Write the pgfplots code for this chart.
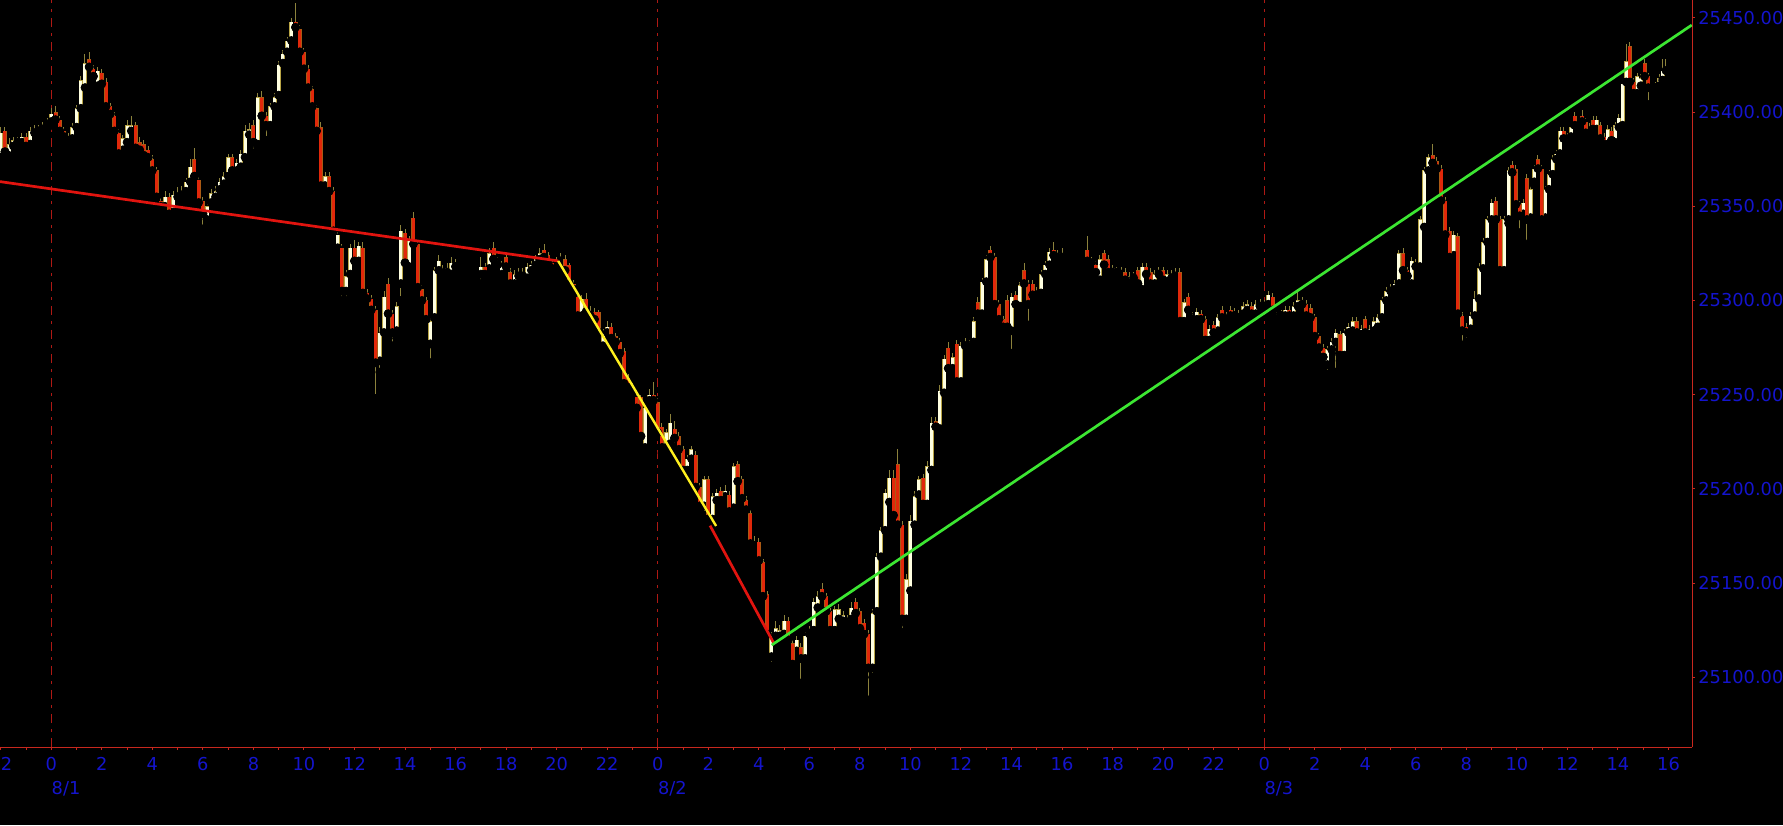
\documentclass[border=0pt]{standalone}
\usepackage{fontspec}
\setmainfont{DejaVu Sans}
\usepackage{pgfplots}
\usepackage{pgfplotstable}
\pgfplotsset{compat=1.18}

\definecolor{tblue}{RGB}{20,20,205}
\definecolor{axred}{RGB}{200,40,30}
\definecolor{dayred}{RGB}{175,25,20}
\definecolor{wickc}{RGB}{140,130,60}
\definecolor{upfill}{RGB}{255,255,225}
\definecolor{upline}{RGB}{185,165,70}
\definecolor{dnfill}{RGB}{225,40,10}
\definecolor{dnline}{RGB}{170,90,20}
\definecolor{trred}{RGB}{225,20,15}
\definecolor{tryel}{RGB}{255,240,30}
\definecolor{trgrn}{RGB}{60,230,50}
\pagecolor{black}

\newcommand\lbl{\fontsize{8.9}{10}\selectfont}

% 8/1 22:00 to 16:00, one row every 10 min
\pgfplotstableread{
o h l c
25376 25392 25372 25389
25390 25392 25377 25379
25377 25386 25375 25383
25382 25387 25380 25385
25385 25387 25382 25384
25384 25389 25382 25387
25387 25389 25380 25382
25383 25392 25381 25390
25389 25393 25387 25391
25390 25393 25388 25392
25391 25395 25389 25393
25393 25397 25391 25395
25395 25402 25393 25399
25400 25403 25394 25396
25396 25398 25388 25390
25390 25392 25384 25387
25387 25389 25382 25385
25386 25394 25384 25392
25392 25404 25390 25402
25402 25419 25398 25417
25413 25431 25410 25426
25428 25432 25421 25424
25423 25425 25416 25419
25414 25424 25411 25422
25421 25423 25413 25415
25416 25418 25401 25403
25403 25405 25397 25399
25398 25400 25388 25390
25389 25391 25376 25378
25380 25388 25376 25386
25384 25396 25382 25393
25390 25398 25388 25393
25393 25395 25379 25381
25384 25387 25378 25380
25383 25385 25374 25377
25380 25382 25374 25376
25375 25377 25367 25369
25369 25371 25352 25355
25353 25355 25347 25350
25350 25358 25348 25355
25355 25357 25343 25346
25347 25358 25345 25356
25355 25360 25353 25357
25356 25361 25354 25358
25358 25365 25356 25363
25363 25375 25361 25371
25375 25381 25364 25366
25364 25366 25350 25352
25353 25355 25338 25346
25343 25352 25340 25350
25352 25359 25350 25357
25355 25361 25353 25358
25359 25365 25357 25363
25362 25368 25360 25366
25366 25378 25364 25376
25376 25378 25367 25369
25369 25375 25367 25373
25371 25380 25369 25378
25376 25393 25374 25390
25388 25394 25386 25391
25393 25396 25378 25384
25383 25410 25381 25408
25408 25411 25396 25398
25398 25400 25385 25393
25393 25405 25391 25403
25403 25410 25401 25408
25409 25427 25406 25425
25426 25433 25424 25431
25432 25440 25430 25438
25438 25450 25436 25448
25448 25458 25443 25445
25444 25446 25430 25432
25432 25434 25421 25423
25423 25425 25411 25413
25412 25414 25401 25403
25402 25404 25388 25390
25392 25395 25358 25361
25361 25368 25358 25366
25366 25368 25356 25358
25358 25360 25335 25337
25328 25337 25326 25335
25328 25330 25300 25305
25305 25316 25300 25313
25314 25330 25311 25328
25328 25332 25318 25321
25321 25331 25318 25329
25328 25331 25302 25304
25304 25306 25298 25301
25301 25303 25292 25295
25295 25297 25248 25267
25268 25286 25262 25283
25283 25305 25280 25302
25309 25312 25290 25293
25293 25295 25276 25283
25284 25299 25280 25297
25309 25340 25300 25337
25336 25338 25318 25320
25318 25334 25315 25332
25344 25347 25328 25330
25330 25332 25305 25307
25306 25308 25298 25300
25300 25302 25288 25290
25277 25291 25267 25289
25291 25318 25288 25316
25316 25324 25314 25321
25314 25319 25312 25316
25315 25320 25313 25317
25314 25323 25312 25320
25320 25322 25316 25318
}\sA

% 8/1 17:00 to 8/2 16:00
\pgfplotstableread{
o h l c
25314 25323 25309 25318
25318 25320 25311 25314
25317 25328 25315 25325
25328 25331 25320 25322
25321 25323 25316 25319
25314 25321 25311 25319
25323 25325 25316 25318
25315 25317 25306 25309
25309 25316 25307 25314
25315 25317 25310 25313
25313 25317 25311 25315
25312 25320 25309 25318
25316 25321 25314 25319
25319 25324 25317 25322
25322 25328 25320 25325
25327 25330 25321 25323
25324 25326 25318 25320
25320 25322 25315 25317
25319 25323 25317 25321
25321 25325 25319 25323
25322 25324 25314 25316
25319 25320 25307 25309
25309 25311 25303 25306
25302 25304 25289 25292
25292 25303 25287 25301
25301 25304 25292 25294
25294 25297 25290 25292
25294 25296 25287 25290
25294 25295 25280 25283
25276 25285 25273 25283
25283 25289 25281 25286
25286 25288 25278 25280
25281 25283 25275 25278
25278 25280 25270 25272
25273 25275 25253 25256
25259 25261 25251 25254
25254 25256 25249 25252
25249 25251 25240 25243
25249 25250 25225 25228
25222 25245 25218 25243
25247 25253 25245 25250
25250 25257 25244 25247
25246 25248 25228 25230
25233 25235 25219 25222
25222 25232 25220 25230
25224 25240 25222 25235
25232 25236 25222 25227
25228 25230 25218 25221
25221 25223 25207 25210
25210 25218 25208 25216
25216 25223 25214 25221
25218 25220 25199 25201
25201 25203 25188 25191
25191 25207 25186 25205
25205 25207 25180 25184
25184 25198 25182 25196
25194 25200 25190 25198
25199 25201 25191 25194
25196 25202 25193 25199
25197 25199 25184 25188
25190 25214 25188 25212
25213 25215 25202 25204
25205 25207 25193 25195
25194 25196 25186 25189
25187 25189 25168 25171
25170 25175 25167 25172
25172 25174 25160 25162
25161 25163 25140 25143
25144 25146 25120 25123
25111 25124 25106 25122
25122 25130 25120 25126
25122 25128 25118 25125
25123 25133 25120 25130
25130 25132 25117 25120
25118 25120 25103 25107
25114 25122 25110 25120
25116 25118 25097 25110
25110 25124 25108 25122
25123 25127 25120 25125
25125 25142 25123 25140
25137 25146 25135 25143
25147 25150 25141 25143
25143 25145 25132 25135
25135 25137 25122 25125
25125 25138 25123 25136
25131 25139 25129 25136
25130 25135 25128 25133
25131 25133 25127 25129
25131 25140 25129 25137
25140 25142 25132 25134
25135 25137 25124 25126
25129 25131 25120 25123
25123 25125 25088 25105
25105 25136 25100 25134
25135 25166 25133 25164
25164 25180 25162 25178
25178 25200 25176 25198
25193 25210 25190 25206
25206 25210 25183 25186
25213 25221 25178 25181
25181 25183 25124 25131
25131 25155 25128 25152
25146 25186 25144 25183
25181 25199 25178 25196
25197 25207 25195 25205
25206 25208 25190 25192
25192 25215 25190 25212
25210 25238 25208 25235
25236 25238 25231 25233
25232 25255 25230 25252
25251 25271 25249 25269
25275 25278 25262 25264
25264 25272 25262 25270
25277 25279 25254 25257
25257 25278 25255 25276
25278 25280 25274 25276
25277 25279 25272 25275
25278 25291 25276 25289
25299 25302 25290 25293
25293 25312 25291 25310
25310 25324 25308 25322
25327 25329 25321 25323
25323 25325 25295 25298
25298 25300 25287 25290
25290 25292 25283 25286
25300 25303 25283 25286
25284 25304 25272 25302
25303 25305 25295 25298
25297 25310 25295 25308
25316 25320 25307 25309
25309 25311 25287 25298
25309 25311 25300 25303
25303 25307 25301 25305
25304 25316 25302 25314
25314 25321 25312 25319
25319 25328 25317 25326
25327 25331 25322 25324
25325 25327 25321 25323
25323 25328 25321 25325
}\sB

% 8/2 17:00 to 8/3 09:30
\pgfplotstableread{
o h l c
25327 25334 25318 25321
25320 25323 25318 25321
25319 25321 25313 25315
25311 25324 25309 25322
25325 25327 25317 25319
25322 25324 25313 25315
25315 25319 25313 25317
25315 25318 25313 25316
25314 25318 25312 25316
25315 25317 25309 25311
25309 25315 25307 25313
25313 25315 25310 25312
25316 25318 25306 25309
25306 25320 25304 25318
25318 25320 25312 25314
25315 25317 25307 25309
25309 25316 25307 25314
25316 25318 25312 25314
25316 25318 25309 25311
25310 25316 25308 25314
25314 25316 25310 25312
25313 25317 25311 25315
25315 25317 25285 25289
25289 25301 25287 25299
25302 25304 25293 25295
25290 25294 25288 25292
25290 25296 25288 25294
25293 25295 25288 25290
25290 25292 25276 25279
25279 25287 25277 25285
25287 25289 25281 25283
25284 25293 25282 25291
25295 25297 25289 25291
25290 25294 25288 25292
25295 25297 25290 25292
25294 25296 25290 25292
25291 25295 25289 25293
25293 25299 25291 25297
25295 25300 25293 25298
25297 25299 25291 25293
25293 25300 25291 25298
25299 25301 25295 25297
25297 25300 25295 25298
25298 25305 25296 25303
25302 25304 25293 25295
25290 25294 25288 25292
25292 25295 25290 25293
25292 25297 25290 25295
25295 25297 25290 25292
25292 25299 25290 25297
25297 25306 25295 25300
25300 25302 25296 25298
25298 25300 25290 25292
25296 25298 25289 25291
25291 25293 25279 25281
25281 25283 25273 25275
25275 25277 25267 25270
25266 25276 25261 25274
25274 25280 25272 25278
25278 25285 25262 25283
25282 25284 25268 25271
25271 25285 25268 25283
25283 25288 25281 25286
25284 25291 25282 25289
25289 25291 25281 25283
25282 25287 25280 25285
25290 25292 25281 25283
25282 25287 25280 25285
25284 25291 25282 25289
25286 25293 25284 25291
25291 25302 25289 25300
25300 25307 25298 25305
25305 25309 25303 25307
25306 25311 25304 25309
25309 25327 25307 25325
25325 25328 25314 25316
25316 25318 25309 25313
25309 25323 25307 25321
25320 25322 25316 25318
25318 25345 25316 25343
25339 25371 25337 25369
25369 25378 25367 25376
25377 25383 25371 25373
25374 25376 25368 25370
25370 25372 25351 25353
25353 25355 25332 25335
25337 25339 25320 25323
25324 25337 25322 25335
25334 25336 25290 25293
25292 25294 25276 25284
25286 25288 25278 25283
25285 25294 25281 25292
25292 25305 25290 25301
25301 25320 25299 25317
25317 25333 25315 25331
25331 25345 25329 25343
25343 25354 25341 25352
25353 25355 25341 25343
25343 25345 25313 25316
25316 25345 25314 25343
}\sC

% 8/3 09:40 to 15:10
\pgfplotstableread{
o h l c
25343 25371 25341 25369
25372 25374 25366 25368
25370 25372 25349 25351
25351 25353 25336 25345
25346 25354 25344 25352
25365 25367 25330 25343
25344 25361 25342 25359
25363 25372 25361 25370
25375 25377 25368 25370
25370 25372 25340 25343
25344 25361 25342 25359
25359 25369 25357 25367
25367 25377 25365 25375
25375 25380 25373 25378
25378 25392 25376 25390
25390 25392 25384 25386
25383 25389 25381 25387
25387 25394 25385 25392
25398 25400 25391 25393
25393 25396 25391 25394
25398 25401 25393 25395
25395 25397 25387 25389
25390 25394 25388 25392
25396 25398 25389 25391
25391 25398 25389 25396
25393 25395 25384 25386
25387 25389 25380 25383
25383 25393 25381 25391
25390 25392 25383 25385
25384 25395 25382 25393
25392 25399 25390 25397
25393 25417 25391 25415
25416 25436 25414 25427
25435 25437 25414 25416
25416 25418 25406 25410
25410 25421 25408 25419
25414 25420 25412 25418
25426 25428 25417 25419
25419 25421 25404 25413
}\sD

% 8/3 after the short gap
\pgfplotstableread{
o h l c
25413 25416 25411 25414
25414 25420 25412 25418
25417 25428 25415 25422
25422 25428 25420 25423
}\sE

\pgfplotsset{
  cndl/.style={only marks, mark=none, forget plot,
    error bars/y dir=plus, error bars/y explicit, error bars/error mark=none},
}

% #1 table, #2 hour of first candle, #3 hours between candles
\newcommand\candles[3]{%
  \addplot[cndl, error bars/error bar style={draw=wickc, line width=0.5pt}]
    table[x expr=#2+\coordindex*#3, y=l, y error plus expr=\thisrow{h}-\thisrow{l}] {#1};
  \addplot[cndl, restrict expr to domain={\thisrow{c}-\thisrow{o}}{0:999},
    error bars/error bar style={draw=upline, line width=2.0pt}]
    table[x expr=#2+\coordindex*#3, y=o, y error plus expr=\thisrow{c}-\thisrow{o}] {#1};
  \addplot[cndl, restrict expr to domain={\thisrow{c}-\thisrow{o}}{0:999},
    error bars/error bar style={draw=upfill, line width=1.5pt, shorten <=0.25pt, shorten >=0.25pt}]
    table[x expr=#2+\coordindex*#3, y=o, y error plus expr=\thisrow{c}-\thisrow{o}] {#1};
  \addplot[cndl, restrict expr to domain={\thisrow{o}-\thisrow{c}}{0.5:999},
    error bars/error bar style={draw=dnline, line width=2.0pt}]
    table[x expr=#2+\coordindex*#3, y=c, y error plus expr=\thisrow{o}-\thisrow{c}] {#1};
  \addplot[cndl, restrict expr to domain={\thisrow{o}-\thisrow{c}}{0.5:999},
    error bars/error bar style={draw=dnfill, line width=1.5pt, shorten <=0.25pt, shorten >=0.25pt}]
    table[x expr=#2+\coordindex*#3, y=c, y error plus expr=\thisrow{o}-\thisrow{c}] {#1};
}

\begin{document}%
\begin{tikzpicture}
\begin{axis}[
  scale only axis, width=846pt, height=373.5pt,
  xmin=-2.03, xmax=64.93, ymin=25063, ymax=25459.5,
  axis x line*=bottom, axis y line*=right,
  axis line style={draw=axred, line width=0.5pt, -},
  clip mode=individual,
  xtick={-2,0,...,64},
  xticklabels={22,0,2,4,6,8,10,12,14,16,18,20,22,0,2,4,6,8,10,12,14,16,18,20,22,0,2,4,6,8,10,12,14,16},
  minor xtick={-1,1,...,63},
  ytick={25100,25150,...,25450},
  yticklabels={25100.000,25150.000,25200.000,25250.000,25300.000,25350.000,25400.000,25450.000},
  tick align=outside,
  major tick length=1.5pt, minor tick length=1.5pt,
  tick style={draw=axred, line width=0.5pt},
  ticklabel style={font=\lbl, text=tblue, inner sep=0pt},
  xticklabel style={yshift=-3.5pt},
  yticklabel style={xshift=1.5pt},
  extra x ticks={0,24,48}, extra x tick labels={},
  extra x tick style={grid=major, major tick length=0pt},
  major grid style={draw=dayred, line width=0.5pt, dash pattern=on 4.5pt off 3pt on 1.5pt off 3pt},
]
\coordinate (LL) at (rel axis cs:0,0);

\candles{\sA}{-2}{0.166667}
\candles{\sB}{17}{0.166667}
\candles{\sC}{41}{0.166667}
\candles{\sD}{57.67}{0.1455}
\candles{\sE}{63.5}{0.1333}

\addplot[trred, line width=1.35pt] coordinates {(-2.03,25363.1) (20.06,25321.0)};
\addplot[tryel, line width=1.2pt] coordinates {(20.06,25321.0) (26.31,25180.3)};
\addplot[trred, line width=1.35pt] coordinates {(26.07,25180.5) (28.58,25118.4)};
\addplot[trgrn, line width=1.35pt] coordinates {(28.51,25117.1) (64.92,25446.2)};

\node[anchor=north west, inner sep=0pt, font=\lbl, text=tblue, yshift=-17pt] at (axis cs:0,25063) {8/1};
\node[anchor=north west, inner sep=0pt, font=\lbl, text=tblue, yshift=-17pt] at (axis cs:24,25063) {8/2};
\node[anchor=north west, inner sep=0pt, font=\lbl, text=tblue, yshift=-17pt] at (axis cs:48,25063) {8/3};
\end{axis}
\pgfresetboundingbox
\path[use as bounding box] (LL) ++(0pt,-39pt) rectangle ++(891.5pt,412.5pt);
\end{tikzpicture}%
\end{document}
